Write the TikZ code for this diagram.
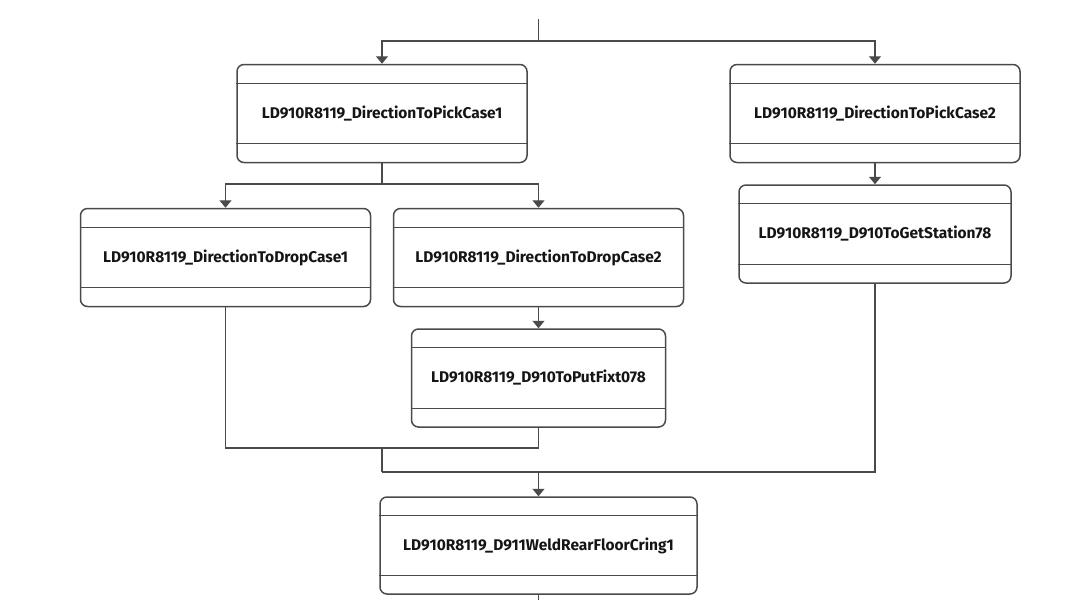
\documentclass[tikz,border=0pt]{standalone}
\usepackage{fontspec}
\setmainfont{Fira Sans}
\usetikzlibrary{arrows.meta}
\definecolor{lc}{HTML}{4A4A4A}
\definecolor{tc}{HTML}{151515}
\tikzset{
  statebox/.style={draw=lc, line width=1.5pt, rounded corners=7pt, minimum height=98pt,
    inner sep=0pt, font=\bfseries\fontsize{15.5}{17}\selectfont, text=tc},
  conn/.style={draw=lc, line width=1.4pt},
  arr/.style={conn, -{Triangle[width=12pt,length=7.5pt]}},
  band/.style={draw=lc, line width=1.3pt}
}
\newcommand{\bands}[1]{%
  \draw[band] ([yshift=-19.5pt]#1.north west) -- ([yshift=-19.5pt]#1.north east);
  \draw[band] ([yshift=19.5pt]#1.south west) -- ([yshift=19.5pt]#1.south east);}
\begin{document}
\begin{tikzpicture}[x=1pt,y=-1pt]
\useasboundingbox (0,0) rectangle (1080,600);
\node[statebox, minimum width=290pt] (A) at (382,113.5) {LD910R8119\_DirectionToPickCase1};
\node[statebox, minimum width=290pt] (B) at (875,113.5) {LD910R8119\_DirectionToPickCase2};
\node[statebox, minimum width=290pt] (C) at (225.5,257.5) {LD910R8119\_DirectionToDropCase1};
\node[statebox, minimum width=290pt] (D) at (538.5,257.5) {LD910R8119\_DirectionToDropCase2};
\node[statebox, minimum width=272pt] (E) at (875,234) {LD910R8119\_D910ToGetStation78};
\node[statebox, minimum width=254pt] (F) at (538.5,378) {LD910R8119\_D910ToPutFixt078};
\node[statebox, minimum width=317pt, minimum height=97pt] (G) at (538.5,545.5) {LD910R8119\_D911WeldRearFloorCring1};
\foreach \n in {A,B,C,D,E,F,G} {\bands{\n}}
\coordinate (top) at (538.5,19);
\coordinate (j1) at (538.5,41);
\coordinate (j2) at (382,184);
\coordinate (j3) at (382,448);
\coordinate (j4) at (382,472);
\coordinate (bot) at (538.5,600);
\draw[conn] (top) -- (j1);
\draw[arr] (j1) -| (A.north);
\draw[arr] (j1) -| (B.north);
\draw[conn] (A.south) -- (j2);
\draw[arr] (j2) -| (C.north);
\draw[arr] (j2) -| (D.north);
\draw[arr] (B.south) -- (E.north);
\draw[arr] (D.south) -- (F.north);
\draw[conn] (C.south) |- (j3);
\draw[conn] (F.south) |- (j3);
\draw[conn] (j3) -- (j4);
\draw[conn] (E.south) |- (j4);
\draw[arr] (G.north |- j4) -- (G.north);
\draw[conn] (G.south) -- (bot);
\end{tikzpicture}
\end{document}
